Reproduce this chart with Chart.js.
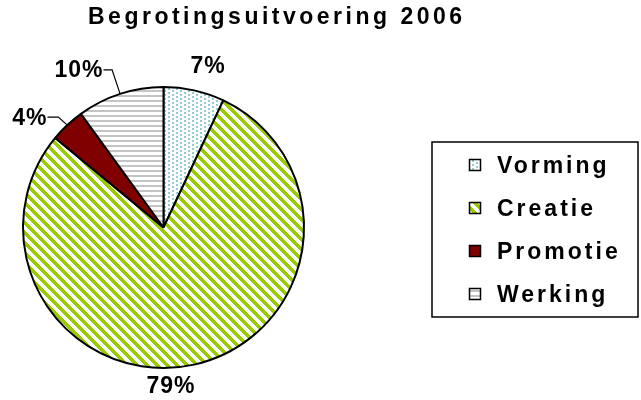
<!DOCTYPE html>
<html>
<head>
<meta charset="utf-8">
<script src="https://cdn.jsdelivr.net/npm/chart.js@4.4.0/dist/chart.umd.min.js"></script>
<style>
  html, body { margin: 0; padding: 0; background: #fff; }
  canvas { display: block; }
</style>
</head>
<body>
<canvas id="pie" width="641" height="400" style="width:641px;height:400px"></canvas>
<script>
const chartTitle = 'Begrotingsuitvoering 2006';
const categories = ['Vorming', 'Creatie', 'Promotie', 'Werking'];
const shares = [7, 79, 4, 10];
const shareLabels = ['7%', '79%', '4%', '10%'];

const canvas = document.getElementById('pie');
const ctx = canvas.getContext('2d');

// small bitmap tiles for the Excel-like fill patterns
function tile(w, h, paint) {
    const c = document.createElement('canvas');
    c.width = w;
    c.height = h;
    const t = c.getContext('2d');
    t.fillStyle = '#fff';
    t.fillRect(0, 0, w, h);
    paint(t);
    return ctx.createPattern(c, 'repeat');
}

const dots = tile(8, 4, t => {
    t.fillStyle = '#92cad6';
    t.fillRect(0, 0, 2, 2);
    t.fillRect(4, 2, 2, 2);
});
const diagonal = tile(10, 10, t => {
    t.fillStyle = '#99cc00';
    for (let y = 0; y < 10; y++) {
        for (let x = 0; x < 10; x++) {
            if ((x - y + 10) % 10 < 5) t.fillRect(x, y, 1, 1);
        }
    }
});
const horizontal = tile(5, 5, t => {
    t.fillStyle = '#c4c4c4';
    t.fillRect(0, 0, 5, 2);
});
const fills = [dots, diagonal, '#800000', horizontal];

// label spots relative to pie centre, plus leader elbows for the small slices
const labelSpots = [
    {dx: 44, dy: -155, align: 'center'},
    {dx: 7, dy: 165, align: 'center'},
    {dx: -117, dy: -103, align: 'right', elbow: [-9, -8]},
    {dx: -61, dy: -151, align: 'right', elbow: [-8, -24]}
];

const textFont = 'bold 23px "Liberation Sans", Arial, sans-serif';

const extras = {
    id: 'extras',
    afterDraw(chart) {
        const c = chart.ctx;
        c.save();
        c.fillStyle = '#000';
        c.textBaseline = 'alphabetic';
        c.textAlign = 'left';

        // title
        c.font = textFont;
        c.letterSpacing = '3.5px';
        c.fillText(chartTitle, 88, 24);

        // percentage labels
        const arcs = chart.getDatasetMeta(0).data;
        c.letterSpacing = '1px';
        arcs.forEach((arc, i) => {
            const spot = labelSpots[i];
            const cx = arc.x + spot.dx;
            const cy = arc.y + spot.dy;
            const w = c.measureText(shareLabels[i]).width - 1;
            let left = cx - w / 2;
            if (spot.align === 'right') left = cx - w;
            c.fillText(shareLabels[i], left, cy);
            if (spot.elbow) {
                const mid = (arc.startAngle + arc.endAngle) / 2;
                const ex = arc.x + Math.cos(mid) * arc.outerRadius;
                const ey = arc.y + Math.sin(mid) * arc.outerRadius;
                const bx = ex + spot.elbow[0];
                const by = ey + spot.elbow[1];
                c.beginPath();
                c.lineWidth = 1.2;
                c.strokeStyle = '#000';
                c.moveTo(ex, ey);
                c.lineTo(bx, by);
                c.lineTo(left + w + 1, by);
                c.stroke();
            }
        });

        // legend box
        c.lineWidth = 1.5;
        c.strokeStyle = '#000';
        c.strokeRect(432, 142, 206, 175);
        c.letterSpacing = '3px';
        categories.forEach((name, i) => {
            const base = 173 + i * 43;
            c.fillStyle = fills[i];
            c.fillRect(469, base - 14, 12, 12);
            c.lineWidth = 1.5;
            c.strokeRect(469.5, base - 13.5, 11, 11);
            c.fillStyle = '#000';
            c.fillText(name, 497, base);
        });
        c.restore();
    }
};

new Chart(ctx, {
    type: 'pie',
    data: {
        labels: categories,
        datasets: [{
            data: shares,
            backgroundColor: fills,
            borderColor: '#000',
            borderWidth: 2
        }]
    },
    options: {
        responsive: false,
        animation: false,
        layout: {padding: {left: 22, top: 86, right: 336, bottom: 31}},
        plugins: {
            legend: {display: false},
            tooltip: {enabled: false},
            title: {display: false}
        }
    },
    plugins: [extras]
});
</script>
</body>
</html>
